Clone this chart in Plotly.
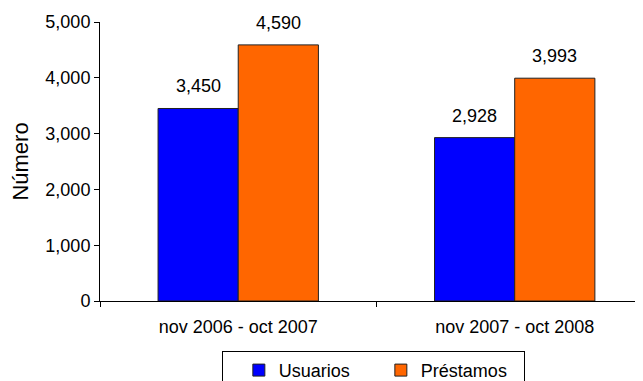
import plotly.graph_objects as go

# 数据
periodos = ['nov 2006 - oct 2007', 'nov 2007 - oct 2008']
usuarios = [3450, 2928]
prestamos = [4590, 3993]

series = [
    ('Usuarios', usuarios, '#0000FF', -40),
    ('Préstamos', prestamos, '#FF6600', 40),
]

font_main = dict(family='Liberation Sans, Arial, sans-serif', size=18, color='black')

fig = go.Figure()
for name, vals, color, dx in series:
    fig.add_trace(go.Bar(
        x=periodos,
        y=vals,
        name=name,
        marker=dict(color=color, line=dict(color='#222222', width=1)),
    ))
    # etiquetas de valor por encima de cada barra
    for p, v in zip(periodos, vals):
        fig.add_annotation(
            x=p, y=v, text=f'{v:,}', showarrow=False,
            xanchor='center', yanchor='bottom',
            xshift=dx, yshift=10,
            font=font_main,
        )

# la página html tiene un margen de 8px en el body, se compensa aquí
fig.update_layout(
    width=643,
    height=381,
    margin=dict(l=92, r=0, t=14, b=88, autoexpand=False),
    plot_bgcolor='white',
    paper_bgcolor='white',
    font=font_main,
    barmode='group',
    bargap=0.42,
    bargroupgap=0,
    showlegend=True,
    legend=dict(
        orientation='h',
        xref='container', yref='container',
        x=0.568, xanchor='center',
        y=0.1, yanchor='top',
        bordercolor='black', borderwidth=1,
        bgcolor='white',
        font=font_main,
        entrywidth=97,
        title=dict(text='\u00a0'),
    ),
)

fig.update_xaxes(
    type='category',
    range=[-0.5, 1.493],
    automargin=False,
    showline=True, linecolor='black', linewidth=1,
    ticks='outside', tickson='boundaries', ticklen=5, tickcolor='black',
    ticklabelstandoff=9,
    showgrid=False,
)
fig.update_yaxes(
    range=[0, 5000],
    dtick=1000,
    tickformat=',',
    automargin=False,
    showline=True, linecolor='black', linewidth=1,
    ticks='outside', ticklen=5, tickcolor='black',
    showgrid=False, zeroline=False,
    title=dict(text='Número', standoff=22),
)

fig.write_html('out.html')
